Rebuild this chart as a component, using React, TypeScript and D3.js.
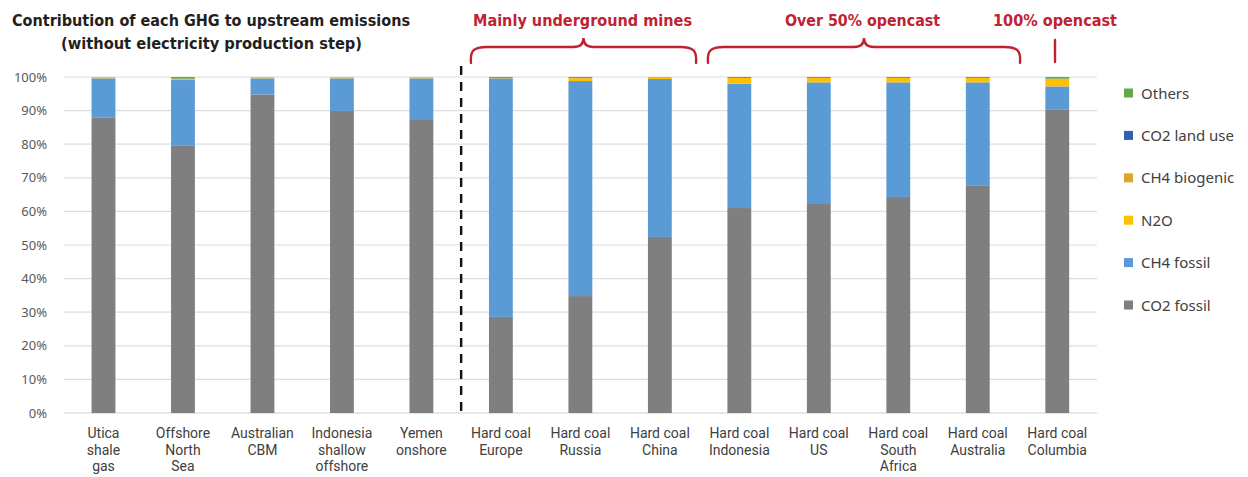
import React from "react";
import * as d3 from "d3";

const categories: string[][] = [
  ["Utica", "shale", "gas"],
  ["Offshore", "North", "Sea"],
  ["Australian", "CBM"],
  ["Indonesia", "shallow", "offshore"],
  ["Yemen", "onshore"],
  ["Hard coal", "Europe"],
  ["Hard coal", "Russia"],
  ["Hard coal", "China"],
  ["Hard coal", "Indonesia"],
  ["Hard coal", "US"],
  ["Hard coal", "South", "Africa"],
  ["Hard coal", "Australia"],
  ["Hard coal", "Columbia"],
];

const seriesNames = ["CO2 fossil", "CH4 fossil", "N2O", "CH4 biogenic", "CO2 land use", "Others"];
const seriesColors = ["#7f7f7f", "#5b9bd5", "#ffc000", "#dfa52b", "#2f5fae", "#62a846"];

const co2Fossil = [88.0, 79.5, 94.8, 89.9, 87.2, 28.6, 34.8, 52.4, 61.0, 62.2, 64.3, 67.6, 90.4];
const ch4Fossil = [11.6, 19.6, 4.8, 9.7, 12.4, 71.0, 64.0, 47.0, 37.0, 36.2, 34.1, 30.8, 6.8];
const n2o = [0.3, 0.4, 0.3, 0.3, 0.3, 0.1, 0.8, 0.4, 1.7, 1.3, 1.3, 1.3, 2.3];
const ch4Biogenic = [0.1, 0.0, 0.1, 0.1, 0.1, 0.0, 0.1, 0.1, 0.0, 0.0, 0.0, 0.0, 0.0];
const co2LandUse = [0.0, 0.0, 0.0, 0.0, 0.0, 0.0, 0.0, 0.0, 0.0, 0.0, 0.0, 0.0, 0.0];
const others = [0.0, 0.5, 0.0, 0.0, 0.0, 0.3, 0.3, 0.1, 0.3, 0.3, 0.3, 0.3, 0.5];

const yTicks = [0, 10, 20, 30, 40, 50, 60, 70, 80, 90, 100];

const W = 1248;
const H = 477;
const plotLeft = 63.75;
const plotRight = 1097;
const plotTop = 77;
const plotBottom = 413;
const RED = "#bf2231";

export default function App() {
  const keys = categories.map((c) => c.join(" "));
  const x = d3.scaleBand<string>().domain(keys).range([plotLeft, plotRight]).paddingInner(0.7).paddingOuter(0.35);
  const y = d3.scaleLinear().domain([0, 100]).range([plotBottom, plotTop]);

  const rows = keys.map((k, i) => ({
    key: k,
    "CO2 fossil": co2Fossil[i],
    "CH4 fossil": ch4Fossil[i],
    N2O: n2o[i],
    "CH4 biogenic": ch4Biogenic[i],
    "CO2 land use": co2LandUse[i],
    Others: others[i],
  }));
  const stacked = d3.stack<any>().keys(seriesNames)(rows);

  const cx = (i: number) => (x(keys[i]) as number) + x.bandwidth() / 2;
  const dashX = (cx(4) + cx(5)) / 2;

  const brace = (x0: number, x1: number, yTop: number, yBottom: number) => {
    const mid = (x0 + x1) / 2;
    const r = 10;
    const yl = yTop + 9;
    return `M${x0},${yBottom} C${x0 - 1},${yl + 4} ${x0 + 2},${yl} ${x0 + r + 6},${yl}
      L${mid - r},${yl} C${mid - 3},${yl} ${mid},${yl - 3} ${mid},${yTop}
      C${mid},${yl - 3} ${mid + 3},${yl} ${mid + r},${yl}
      L${x1 - r - 6},${yl} C${x1 - 2},${yl} ${x1 + 1},${yl + 4} ${x1},${yBottom}`;
  };

  const legendItems = [...seriesNames].reverse();
  const legendY0 = 93;
  const legendStep = 42.4;

  return (
    <svg width={W} height={H} style={{ position: "absolute", left: 0, top: 0, background: "#fff" }}>
      {/* title */}
      <g fontFamily="'DejaVu Sans Condensed', 'DejaVu Sans', sans-serif" fontWeight="bold" fontSize={16} fill="#231f20" style={{ whiteSpace: "pre" }}>
        <text x={12} y={26} textLength={398} lengthAdjust="spacingAndGlyphs">Contribution of each GHG to upstream emissions</text>
        <text x={61} y={49} textLength={301} lengthAdjust="spacingAndGlyphs">{"(without  electricity production step)"}</text>
      </g>

      {/* annotations */}
      <g fontFamily="'DejaVu Sans Condensed', 'DejaVu Sans', sans-serif" fontWeight="bold" fontSize={16} fill={RED}>
        <text x={473} y={26} textLength={219} lengthAdjust="spacingAndGlyphs">Mainly underground mines</text>
        <text x={785} y={26} textLength={155} lengthAdjust="spacingAndGlyphs">Over 50% opencast</text>
        <text x={993} y={26} textLength={124} lengthAdjust="spacingAndGlyphs">100% opencast</text>
      </g>
      <g fill="none" stroke={RED} strokeWidth={2.4} strokeLinecap="round">
        <path d={brace(471, 696, 38, 63)} />
        <path d={brace(708, 1020, 38, 63)} />
        <line x1={1055} x2={1055} y1={40} y2={62} />
      </g>

      {/* gridlines */}
      <g>
        {yTicks.map((t) => (
          <line key={t} x1={plotLeft} x2={plotRight} y1={y(t)} y2={y(t)} stroke={t === 0 ? "#d0d0d0" : "#dedede"} strokeWidth={1.2} />
        ))}
      </g>
      <g fontFamily="'Noto Sans', sans-serif" fontSize={13} fill="#595959" textAnchor="end">
        {yTicks.map((t) => (
          <text key={t} x={47} y={y(t) + 4.5}>{`${t}%`}</text>
        ))}
      </g>

      {/* bars */}
      {stacked.map((s, si) => (
        <g key={seriesNames[si]} fill={seriesColors[si]}>
          {s.map((d, i) => {
            const h = y(d[0]) - y(d[1]);
            if (h <= 0) return null;
            return <rect key={i} x={x(keys[i])} y={y(d[1])} width={x.bandwidth()} height={h} />;
          })}
        </g>
      ))}

      {/* dashed separator */}
      <line x1={dashX} x2={dashX} y1={66} y2={plotBottom} stroke="#111" strokeWidth={2.4} strokeDasharray="9,7" />

      {/* x labels */}
      <g fontFamily="Roboto, 'Noto Sans', sans-serif" fontSize={14} fill="#404040" textAnchor="middle">
        {categories.map((lines, i) => (
          <text key={i} x={cx(i)} y={438}>
            {lines.map((l, j) => (
              <tspan key={j} x={cx(i)} dy={j === 0 ? 0 : 16.5}>{l}</tspan>
            ))}
          </text>
        ))}
      </g>

      {/* legend */}
      <g fontFamily="'Noto Sans', sans-serif" fontSize={15} fill="#404040">
        {legendItems.map((name, i) => {
          const ci = seriesNames.indexOf(name);
          const yy = legendY0 + i * legendStep;
          return (
            <g key={name}>
              <rect x={1124} y={yy - 4.5} width={9} height={9} fill={seriesColors[ci]} />
              <text x={1141} y={yy + 5.5}>{name}</text>
            </g>
          );
        })}
      </g>
    </svg>
  );
}
